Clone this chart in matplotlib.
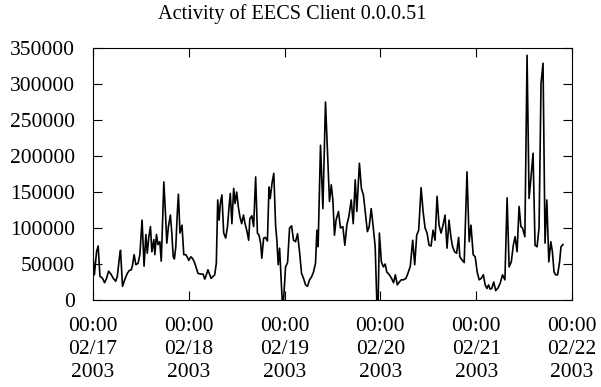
import matplotlib
matplotlib.use('Agg')
import matplotlib.pyplot as plt
import matplotlib.dates as mdates
import pandas as pd

# Hours since 2003-02-17 00:00 and client activity at that time
hours = [0.0, 0.35, 0.9, 1.3, 1.75, 2.4, 2.9, 3.4, 3.9, 4.5, 5.1, 5.7, 6.1, 6.6, 6.9, 7.4, 8.0, 8.6,
         9.1, 9.6, 9.9, 10.3, 10.75, 11.3, 11.75, 12.3, 12.8, 13.25, 13.6, 14.0, 14.4, 14.75, 15.25,
         15.5, 15.9, 16.3, 16.75, 17.1, 17.4, 17.75, 18.2, 18.5, 18.9, 19.4, 19.75, 20.1, 20.4, 20.75,
         21.1, 21.4, 21.8, 22.3, 22.75, 23.25, 23.6, 24.0, 24.5, 24.9, 25.3, 25.75, 26.3, 27.0, 27.6,
         28.0, 28.4, 28.8, 29.25, 29.6, 30.1,
         30.5, 30.9, 31.25, 31.6, 31.9, 32.3, 32.75, 33.25, 33.7, 34.1, 34.4, 34.8, 35.25, 35.6, 36.0,
         36.4, 36.8, 37.25, 37.7, 38.1, 38.6, 39.0, 39.3, 39.8, 40.25, 40.75, 41.2, 41.6, 42.0, 42.3,
         42.75, 43.2, 43.7, 44.1, 44.4, 44.9, 45.3, 45.75, 46.1, 46.4, 46.75, 47.1, 47.4, 47.75, 48.25,
         48.75, 49.25, 49.75, 50.25, 50.75, 51.25, 51.75, 52.25, 52.75, 53.25, 53.75, 54.25, 54.75,
         55.25, 55.75, 56.1, 56.4, 57.0, 57.6, 58.25,
         59.25, 59.7, 60.1, 60.5, 60.9, 61.5, 62.0, 62.6, 63.1, 63.6, 64.1, 64.7, 65.2, 65.7, 66.1,
         66.75, 67.25, 67.75, 68.25, 68.75, 69.2, 69.7, 70.2, 70.7, 71.1, 71.45, 71.75, 72.25, 72.75,
         73.2, 73.6, 74.25, 74.8, 75.3, 75.75, 76.25, 76.75, 77.25, 77.75, 78.4, 78.9, 79.5, 80.1,
         80.6, 81.1, 81.6, 82.2, 82.7, 83.2, 83.7, 84.2, 84.7, 85.2, 85.7, 86.2, 86.7, 87.2, 87.7,
         88.2, 88.7, 89.2, 89.7,
         90.1, 90.6, 91.1, 91.6, 91.9, 92.4, 93.0, 93.7, 94.25, 94.7, 95.25, 95.75, 96.25, 96.75,
         97.25, 97.8, 98.25, 98.7, 99.1, 99.5, 99.9, 100.4, 100.9, 101.5, 102.0, 102.6, 103.2, 103.75,
         104.25, 104.8, 105.3, 105.75, 106.25, 106.75, 107.2, 107.6, 108.2, 108.75, 109.25, 109.75,
         110.25, 110.75, 111.25, 111.75, 112.25, 112.75, 113.25, 113.7, 114.2, 114.7, 115.1, 115.5,
         115.9, 116.4, 116.9, 117.25, 117.75]

activity_k = [62, 35, 67, 75, 33, 30, 24, 30, 40, 36, 30, 26, 33, 58, 69, 19, 29, 37,
              41, 42, 48, 63, 49, 51, 63, 111, 47, 91, 65, 88, 102, 67, 84,
              63, 91, 77, 81, 54, 102, 164, 116, 79, 102, 118, 93, 60, 57, 74,
              118, 147, 93, 104, 63, 63, 60, 55, 60, 58, 54, 47, 37, 36, 36,
              29, 35, 42, 35, 30, 33,
              35, 51, 139, 111, 134, 146, 93, 86, 102, 130, 148, 106, 155, 134, 150,
              130, 116, 106, 118, 106, 95, 83, 113, 117, 102, 171, 93, 90, 79, 58,
              86, 87, 82, 157, 141, 164, 176, 104, 81, 49, 72, 32, 0, 0, 46,
              52, 100, 103, 83, 81, 92, 67, 37, 30, 21, 19, 28, 32,
              39, 51, 97, 74, 215, 127, 275,
              137, 160, 139, 90, 111, 123, 100, 102, 76, 104, 116, 139, 106, 167, 123,
              190, 155, 146, 120, 95, 102, 127, 102, 74, 0, 0, 93, 53, 46,
              50, 39, 35, 30, 24, 35, 21, 25, 28, 28, 30, 37, 47, 83,
              49, 90, 97, 156, 123, 100, 93, 76, 75, 97, 83, 144, 104, 93, 104,
              118, 72, 111, 86,
              74, 67, 65, 87, 60, 56, 52, 178, 81, 104, 63, 60, 39, 28,
              30, 35, 21, 16, 21, 15, 16, 25, 13, 17, 23, 35, 28, 142,
              46, 53, 76, 88, 67, 130, 102, 100, 88, 340, 141, 171,
              204, 76, 74, 100, 301, 329, 79, 139, 53, 81, 67, 39,
              35, 35, 53, 74, 77]

start = pd.Timestamp('2003-02-17 00:00')
end = pd.Timestamp('2003-02-22 00:00')
times = start + pd.to_timedelta(hours, unit='h')
activity = [v * 1000 for v in activity_k]

plt.rcParams['font.family'] = ['Liberation Serif', 'DejaVu Serif']

fig = plt.figure(figsize=(6.01, 3.87), dpi=100)
ax = fig.add_axes([0.1547, 0.2248, 0.797, 0.651])

ax.plot(times, activity, color='black', linewidth=1.2)

ax.set_xlim(start, end)
ax.set_ylim(0, 350000)
ax.set_yticks(range(0, 350001, 50000))
ax.xaxis.set_major_locator(mdates.DayLocator())
ax.xaxis.set_major_formatter(mdates.DateFormatter('%H:%M\n%m/%d\n%Y'))

# inward ticks on every side of the box
ax.tick_params(direction='in', length=6.5, width=0.8, top=True, right=True, labelsize=15.5)
ax.tick_params(axis='y', pad=13)
ax.tick_params(axis='x', pad=12)
for lbl in ax.get_xticklabels():
    lbl.set_linespacing(1.3)
    lbl.set_multialignment('center')
for s in ax.spines.values():
    s.set_linewidth(0.8)

# title sits centred over the figure
fig.text(292 / 601, 1 - 14 / 387, 'Activity of EECS Client 0.0.0.51',
         fontsize=14.6, ha='center', va='center')

fig.savefig('out.png', dpi=100)
